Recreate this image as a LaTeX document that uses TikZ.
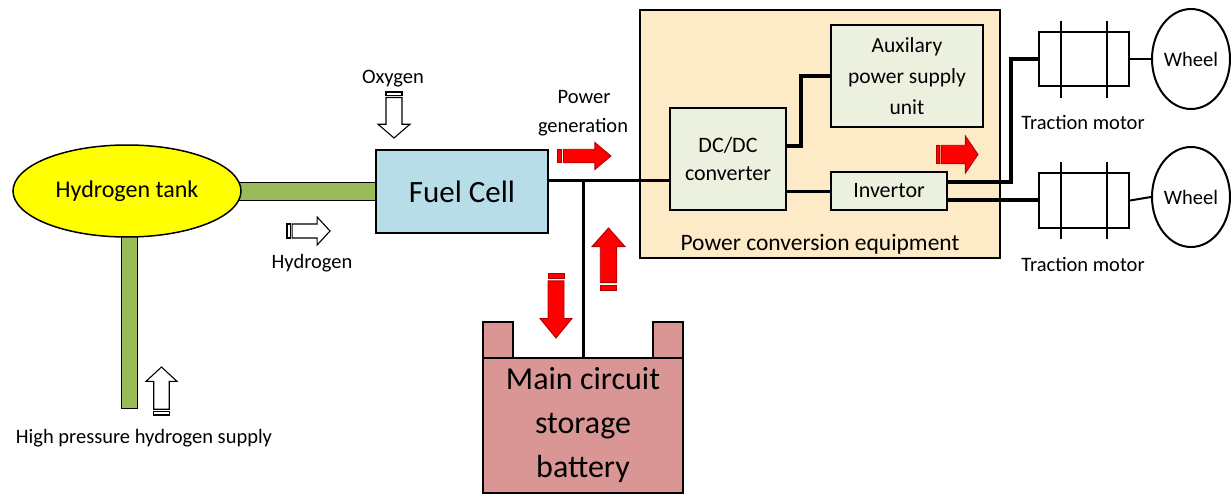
\documentclass[tikz,border=0pt]{standalone}
\usepackage{fontspec}
\setmainfont{Carlito}
\usetikzlibrary{shapes.geometric,calc}
\definecolor{tankY}{HTML}{FFFF00}
\definecolor{pipeG}{HTML}{9BBB59}
\definecolor{fcBlue}{HTML}{B7DEE8}
\definecolor{pceBeige}{HTML}{FDEBC8}
\definecolor{boxGreen}{HTML}{EBF1DE}
\definecolor{battPink}{HTML}{D99694}
\definecolor{arrRed}{HTML}{FF0000}
\definecolor{arrDark}{HTML}{B00000}
\tikzset{
  sarrow/.pic={
    \path[pic actions] (0,-0.25) rectangle (0.08,0.25);
    \path[pic actions] (0.12,-0.25) -- (0.7,-0.25) -- (0.7,-0.5) -- (1,0) -- (0.7,0.5) -- (0.7,0.25) -- (0.12,0.25) -- cycle;
  },
  whitearrow/.style={draw=black, fill=white, line width=1.1pt},
  redarrow/.style={draw=arrDark, fill=arrRed, line width=0.9pt},
  lbl/.style={font=\fontsize{20.5}{24}\selectfont, inner sep=0pt, anchor=base},
  boxbase/.style={draw=black, line width=1.5pt, inner sep=0pt, align=center},
  pipe/.style={draw=black, fill=pipeG, line width=1pt},
  bus/.style={line width=3pt},
  conn/.style={line width=3.5pt},
  thin/.style={line width=2pt},
}
\begin{document}
\begin{tikzpicture}[x=1pt,y=-1pt]
\useasboundingbox[fill=white] (0,0) rectangle (1231,495);

% pipes
\path[pipe] (230,182) rectangle (376,200);
\path[pipe] (121,225) rectangle (137,408);

% hydrogen tank
\node[ellipse, draw=black, line width=1.5pt, fill=tankY, minimum width=228pt, minimum height=92pt, inner sep=0pt,
      font=\fontsize{24}{28}\selectfont] (tank) at (127,191) {Hydrogen tank};

% fuel cell
\node[boxbase, fill=fcBlue, minimum width=172pt, minimum height=83pt, font=\fontsize{31}{36}\selectfont] (fc) at (462,191.5) {Fuel Cell};

% power conversion equipment
\node[boxbase, fill=pceBeige, minimum width=360pt, minimum height=248pt] (pce) at (820,134) {};
\node[lbl, font=\fontsize{23.5}{28}\selectfont] (pcelbl) at (820,250) {Power conversion equipment};

\node[boxbase, fill=boxGreen, minimum width=116pt, minimum height=102pt, font=\fontsize{22}{28}\selectfont] (dcdc) at (728,159) {DC/DC\\converter};
\node[boxbase, fill=boxGreen, minimum width=152pt, minimum height=102pt, font=\fontsize{21.5}{31}\selectfont] (aux) at (907,76) {Auxilary\\power supply\\unit};
\node[boxbase, fill=boxGreen, minimum width=116pt, minimum height=38pt, font=\fontsize{22}{26}\selectfont] (inv) at (889,191) {Invertor};

% battery
\path[draw=black, line width=1.5pt, fill=battPink] (483,322) rectangle (513,358);
\path[draw=black, line width=1.5pt, fill=battPink] (653,322) rectangle (683,358);
\node[boxbase, fill=battPink, minimum width=200pt, minimum height=135pt, font=\fontsize{32}{44}\selectfont] (batt) at (583,425.5) {Main circuit\\storage\\battery};

% traction motors
\node[draw=black, thin, minimum width=90pt, minimum height=54pt, inner sep=0pt] (motA) at (1084,59) {};
\draw[thin] (1061,21) -- (1061,98);
\draw[thin] (1107,21) -- (1107,98);
\node[draw=black, thin, minimum width=90pt, minimum height=55pt, inner sep=0pt] (motB) at (1084,200.5) {};
\draw[thin] (1061,162) -- (1061,239);
\draw[thin] (1107,162) -- (1107,239);

% wheels
\node[ellipse, draw=black, thin, minimum width=78pt, minimum height=100pt, inner sep=0pt, font=\fontsize{20.5}{24}\selectfont] (whA) at (1191,59) {Wheel};
\node[ellipse, draw=black, thin, minimum width=78pt, minimum height=100pt, inner sep=0pt, font=\fontsize{20.5}{24}\selectfont] (whB) at (1191,197) {Wheel};
\draw[thin] (motA.east) -- (whA.west);
\draw[thin] (motB.east) -- (whB.west);

% connections
\coordinate (busL) at (548,180);
\coordinate (busJ) at (583,180);
\draw[bus] (busL) -- (dcdc.west |- busL);
\draw[bus] (busJ) -- (busJ |- batt.north);
\draw[conn] ([yshift=13pt]dcdc.east) -- ++(14,0) |- (aux.west);
\draw[bus] ([yshift=-32pt]dcdc.east) -- (inv.west);
\draw[conn] ([yshift=9pt]inv.east) -- ++(63,0) |- (motA.west);
\draw[conn] ([yshift=-9pt]inv.east) -- (motB.west |- 0,200);

% labels
\node[lbl] (oxy) at (393,84) {Oxygen};
\node[lbl] (hyd) at (312,268) {Hydrogen};
\node[lbl] (hps) at (144,443) {High pressure hydrogen supply};
\node[lbl] (pow) at (584,103) {Power};
\node[lbl] (gen) at (583,132) {generation};
\node[lbl] (tmA) at (1083,129) {Traction motor};
\node[lbl] (tmB) at (1083,271) {Traction motor};

% flow arrows
\pic[whitearrow, rotate=-90, xscale=46, yscale=32] at (394,92) {sarrow};
\pic[whitearrow, xscale=43, yscale=28] at (287,231) {sarrow};
\pic[whitearrow, rotate=90, xscale=48, yscale=31] at (161.5,415) {sarrow};
\pic[redarrow, xscale=54, yscale=27] at (557,156) {sarrow};
\pic[redarrow, rotate=90, xscale=62, yscale=33] at (608.5,290) {sarrow};
\pic[redarrow, rotate=-90, xscale=65, yscale=32] at (556,273) {sarrow};
\pic[redarrow, xscale=42, yscale=37] at (936,154.5) {sarrow};
\end{tikzpicture}
\end{document}
